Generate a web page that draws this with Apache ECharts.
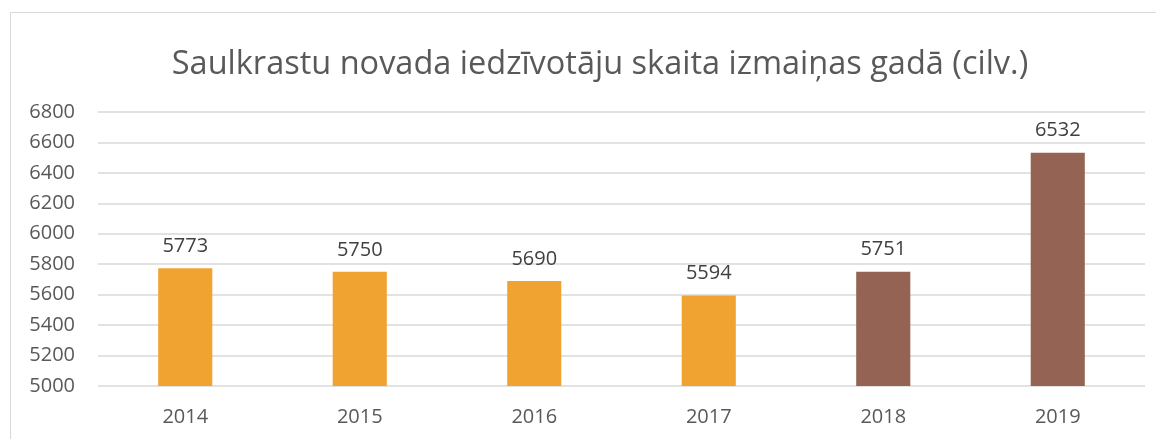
<!DOCTYPE html>
<html>
<head>
<meta charset="utf-8">
<script src="https://cdn.jsdelivr.net/npm/echarts@6/dist/echarts.min.js"></script>
<style>
  html, body { margin: 0; padding: 0; background: #fff; }
  #main { width: 1156px; height: 439px; }
</style>
</head>
<body>
<div id="main"></div>
<script>
var years = ["2014", "2015", "2016", "2017", "2018", "2019"];
var residents = [5773, 5750, 5690, 5594, 5751, 6532];
var yTicks = [5000, 6800, 200]; // min, max, step

var orange = "#F0A330";
var brown = "#946353";

var myChart = echarts.init(document.getElementById("main"));

var option = {
  backgroundColor: "#fff",
  textStyle: { fontFamily: "Open Sans" },
  graphic: [
    {
      type: "rect",
      shape: { x: 10.5, y: 12.5, width: 1200, height: 500 },
      style: { fill: "none", stroke: "#d9d9d9", lineWidth: 1 }
    }
  ],
  title: {
    text: "Saulkrastu novada iedzīvotāju skaita izmaiņas gadā (cilv.)",
    left: 595,
    textAlign: "center",
    top: 43,
    textStyle: {
      fontFamily: "Open Sans",
      fontSize: 32.5,
      fontWeight: "normal",
      color: "#595959"
    }
  },
  grid: {
    left: 98,
    right: 11,
    top: 112,
    bottom: 53,
    containLabel: false
  },
  xAxis: {
    type: "category",
    data: years,
    axisLine: { show: false },
    axisTick: { show: false },
    axisLabel: {
      color: "#595959",
      fontSize: 20,
      margin: 21
    }
  },
  yAxis: {
    type: "value",
    min: yTicks[0],
    max: yTicks[1],
    interval: yTicks[2],
    axisLine: { show: false },
    axisTick: { show: false },
    axisLabel: {
      color: "#595959",
      fontSize: 20,
      margin: 23,
      formatter: function (v) { return String(v); }
    },
    splitLine: { lineStyle: { color: "#d9d9d9", width: 1.5 } }
  },
  series: [
    {
      type: "bar",
      data: residents,
      barWidth: "31%",
      itemStyle: {
        color: function (p) {
          return p.dataIndex >= 4 ? brown : orange; //2018, 2019 citā krāsā
        }
      },
      label: {
        show: true,
        position: "top",
        distance: 12,
        color: "#404040",
        fontSize: 20
      }
    }
  ]
};
myChart.setOption(option);
</script>
</body>
</html>
